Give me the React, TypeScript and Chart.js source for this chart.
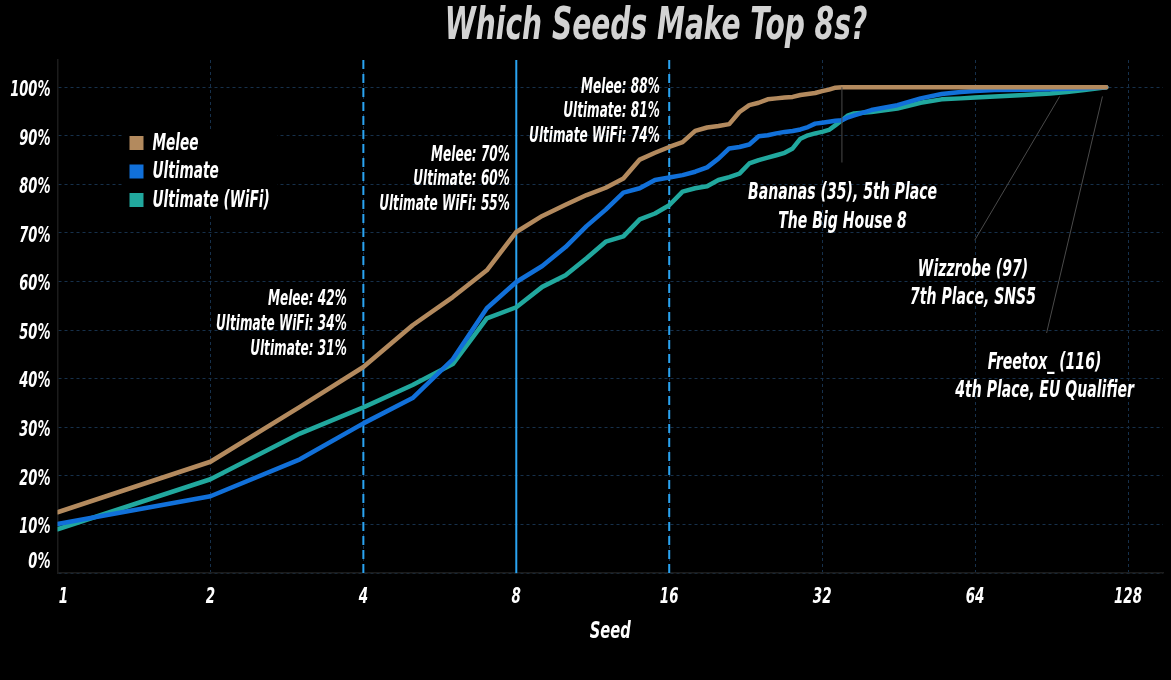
import React, { useEffect, useRef } from "react";
import { Chart, registerables } from "chart.js";

Chart.register(...registerables);

// ---------- data ----------
const seeds = [
  1, 2, 3, 4, 5, 6, 7, 8, 9, 10, 11, 12, 13, 14, 15, 16, 17, 18, 19, 20,
  21, 22, 23, 24, 25, 26, 27, 28, 29, 30, 31, 32, 33, 34, 35, 36, 37,
  40, 45, 50, 55, 60, 64, 70, 80, 90, 97, 105, 116,
];

const meleeValues = [
  12.5, 22.9, 34.2, 42.4, 51.0, 56.8, 62.3, 70.2, 73.5, 75.8, 77.8, 79.3, 81.2, 85.1, 86.5, 87.7, 88.7, 91.0, 91.7, 92.0,
  92.4, 94.9, 96.3, 96.8, 97.5, 97.7, 97.9, 98.0, 98.4, 98.6, 98.8, 99.2, 99.5, 99.9, 100, 100, 100,
  100, 100, 100, 100, 100, 100, 100, 100, 100, 100, 100, 100,
];

const ultimateValues = [
  10.1, 15.8, 23.4, 30.8, 36.0, 44.0, 54.5, 59.9, 63.2, 67.1, 71.4, 74.8, 78.3, 79.2, 80.9, 81.4, 81.9, 82.6, 83.5, 85.3,
  87.4, 87.7, 88.2, 89.9, 90.1, 90.5, 90.8, 91.0, 91.3, 91.8, 92.5, 92.7, 92.9, 93.1, 93.2, 93.8, 94.2,
  95.3, 96.3, 97.7, 98.6, 99.0, 99.2, 99.4, 99.5, 99.6, 99.7, 99.8, 100,
];

const wifiValues = [
  9.0, 19.3, 28.7, 34.1, 38.7, 43.0, 52.4, 54.7, 58.9, 61.3, 64.8, 68.2, 69.3, 72.8, 74.0, 75.7, 78.5, 79.2, 79.6, 80.9,
  81.5, 82.2, 84.3, 85.0, 85.5, 86.0, 86.5, 87.4, 89.4, 90.1, 90.5, 90.8, 91.2, 92.2, 93.2, 94.2, 94.6,
  94.9, 95.6, 96.8, 97.5, 97.7, 97.9, 98.1, 98.4, 98.7, 99.0, 99.4, 100,
];

const seriesLabels = ["Melee", "Ultimate", "Ultimate (WiFi)"];
const seriesColors = ["#b38a5e", "#1170d9", "#21a89e"];

const xTickValues = [1, 2, 4, 8, 16, 32, 64, 128];
const yTickValues = [0, 10, 20, 30, 40, 50, 60, 70, 80, 90, 100];

const titleText = "Which Seeds Make Top 8s?";
const xAxisTitle = "Seed";

const guideSeeds = [4, 8, 16];
const guideDashed = [true, false, true];

const noteGroups = [
  { seed: 3.71, value: 56.2, align: "right", gap: 25, size: 21, lines: ["Melee: 42%", "Ultimate WiFi: 34%", "Ultimate: 31%"] },
  { seed: 7.77, value: 86.0, align: "right", gap: 24.5, size: 21, lines: ["Melee: 70%", "Ultimate: 60%", "Ultimate WiFi: 55%"] },
  { seed: 15.33, value: 100.0, align: "right", gap: 24.5, size: 21, lines: ["Melee: 88%", "Ultimate: 81%", "Ultimate WiFi: 74%"] },
  { seed: 35.1, value: 78.2, align: "center", gap: 29, size: 23, lines: ["Bananas (35), 5th Place", "The Big House 8"] },
  { seed: 63.4, value: 62.3, align: "center", gap: 28, size: 23, lines: ["Wizzrobe (97)", "7th Place, SNS5"] },
  { seed: 87.7, value: 43.2, align: "center", gap: 28, size: 23, lines: ["Freetox_ (116)", "4th Place, EU Qualifier"] },
];

const leaderLines = [
  { x1: 35, y1: 100, x2: 35, y2: 84.5 },
  { x1: 93.9, y1: 98.1, x2: 63.9, y2: 68.5 },
  { x1: 114, y1: 98.1, x2: 88.5, y2: 49.4 },
];

// ---------- styles ----------
const FONT = "'DejaVu Sans Condensed', 'DejaVu Sans', sans-serif";
const GRID_COLOR = "#16304b";
const GUIDE_COLOR = "#2aa4f2";

function drawText(
  ctx: CanvasRenderingContext2D,
  text: string,
  x: number,
  y: number,
  align: CanvasTextAlign,
  size: number,
  color: string,
  sx: number
) {
  ctx.save();
  ctx.font = `italic bold ${size}px ${FONT}`;
  ctx.fillStyle = color;
  ctx.textAlign = align;
  ctx.textBaseline = "middle";
  ctx.translate(x, y);
  ctx.scale(sx, 1);
  ctx.fillText(text, 0, 0);
  ctx.restore();
}

const overlayPlugin = {
  id: "overlay",
  beforeDatasetsDraw(chart: any) {
    const { ctx, chartArea: a, scales } = chart;
    const xs = scales.x;
    guideSeeds.forEach((s, i) => {
      const px = xs.getPixelForValue(s);
      ctx.save();
      ctx.strokeStyle = GUIDE_COLOR;
      ctx.lineWidth = 2;
      ctx.setLineDash(guideDashed[i] ? [9, 5] : []);
      ctx.beginPath();
      ctx.moveTo(px, a.top);
      ctx.lineTo(px, a.bottom);
      ctx.stroke();
      ctx.restore();
    });
  },
  afterDatasetsDraw(chart: any) {
    const { ctx, chartArea: a, scales } = chart;
    const xs = scales.x;
    const ys = scales.y;

    // leader lines
    leaderLines.forEach((l) => {
      ctx.save();
      ctx.strokeStyle = "#4a4a4a";
      ctx.lineWidth = 1;
      ctx.beginPath();
      ctx.moveTo(xs.getPixelForValue(l.x1), ys.getPixelForValue(l.y1));
      ctx.lineTo(xs.getPixelForValue(l.x2), ys.getPixelForValue(l.y2));
      ctx.stroke();
      ctx.restore();
    });

    // notes
    noteGroups.forEach((g) => {
      const px = xs.getPixelForValue(g.seed);
      const py = ys.getPixelForValue(g.value);
      const sx = g.size > 22 ? 0.68 : 0.64;
      g.lines.forEach((t, i) => {
        drawText(ctx, t, px, py + i * g.gap, g.align as CanvasTextAlign, g.size, "#ffffff", sx);
      });
    });

    // legend
    const lx = a.left + 72;
    const ly = a.top + 76;
    ctx.save();
    ctx.fillStyle = "#000000";
    ctx.fillRect(lx - 6, ly - 7, 154, 86);
    ctx.restore();
    seriesLabels.forEach((lab, i) => {
      const ty = ly + i * 28.5;
      ctx.save();
      ctx.fillStyle = seriesColors[i];
      ctx.fillRect(lx, ty, 14, 14);
      ctx.restore();
      drawText(ctx, lab, lx + 23, ty + 8, "left", 23, "#ffffff", 0.66);
    });

    // y tick labels (0% sits above the axis line)
    ys.ticks.forEach((t: any) => {
      const py = t.value === 0 ? a.bottom - 11 : ys.getPixelForValue(t.value) + 3;
      drawText(ctx, `${t.value}%`, a.left - 7, py, "right", 22, "#ffffff", 0.66);
    });

    // x tick labels
    xs.ticks.forEach((t: any) => {
      const px = Math.max(xs.getPixelForValue(t.value), a.left + 6);
      drawText(ctx, String(t.value), px, a.bottom + 24, "center", 22, "#ffffff", 0.68);
    });

    // axis title
    drawText(ctx, xAxisTitle, (a.left + a.right) / 2, a.bottom + 59, "center", 23, "#ffffff", 0.71);

    // title
    drawText(ctx, titleText, 656, 28, "center", 44, "#d3d3d3", 0.71);
  },
};

export default function App() {
  const canvasRef = useRef<HTMLCanvasElement | null>(null);

  useEffect(() => {
    document.body.style.margin = "0";
    document.body.style.background = "#000";
    const canvas = canvasRef.current;
    if (!canvas) return;

    const datasets = [meleeValues, ultimateValues, wifiValues].map((vals, i) => ({
      label: seriesLabels[i],
      data: seeds.map((s, j) => ({ x: s, y: vals[j] })),
      borderColor: seriesColors[i],
      backgroundColor: seriesColors[i],
      borderWidth: 4.5,
      pointRadius: 0,
      tension: 0,
      fill: false,
      borderJoinStyle: "round" as const,
      borderCapStyle: "round" as const,
      order: i,
    }));

    const chart = new Chart(canvas, {
      type: "line",
      data: { datasets },
      options: {
        responsive: false,
        maintainAspectRatio: false,
        animation: false,
        layout: { padding: { top: 60, right: 8, left: 0, bottom: 0 } },
        plugins: {
          legend: { display: false },
          title: { display: false },
          tooltip: { enabled: false },
        },
        scales: {
          x: {
            type: "logarithmic",
            min: 1,
            max: 150,
            afterBuildTicks: (s: any) => {
              s.ticks = xTickValues.map((v) => ({ value: v }));
            },
            afterFit: (s: any) => {
              s.height = 107;
            },
            grid: { color: GRID_COLOR, lineWidth: 1, drawTicks: false },
            border: { display: true, color: "#1c1c1c", width: 1.5, dash: [3, 3] },
            ticks: { display: false },
          },
          y: {
            type: "linear",
            min: 0,
            max: 105.6,
            afterBuildTicks: (s: any) => {
              s.ticks = yTickValues.map((v) => ({ value: v }));
            },
            afterFit: (s: any) => {
              s.width = 57.5;
            },
            grid: { color: GRID_COLOR, lineWidth: 1, drawTicks: false },
            border: { display: true, color: "#1c1c1c", width: 1.5, dash: [3, 3] },
            ticks: { display: false },
          },
        },
      },
      plugins: [overlayPlugin],
    });

    return () => chart.destroy();
  }, []);

  return (
    <div style={{ width: 1171, height: 680, background: "#000" }}>
      <canvas ref={canvasRef} width={1171} height={680} style={{ display: "block" }} />
    </div>
  );
}
